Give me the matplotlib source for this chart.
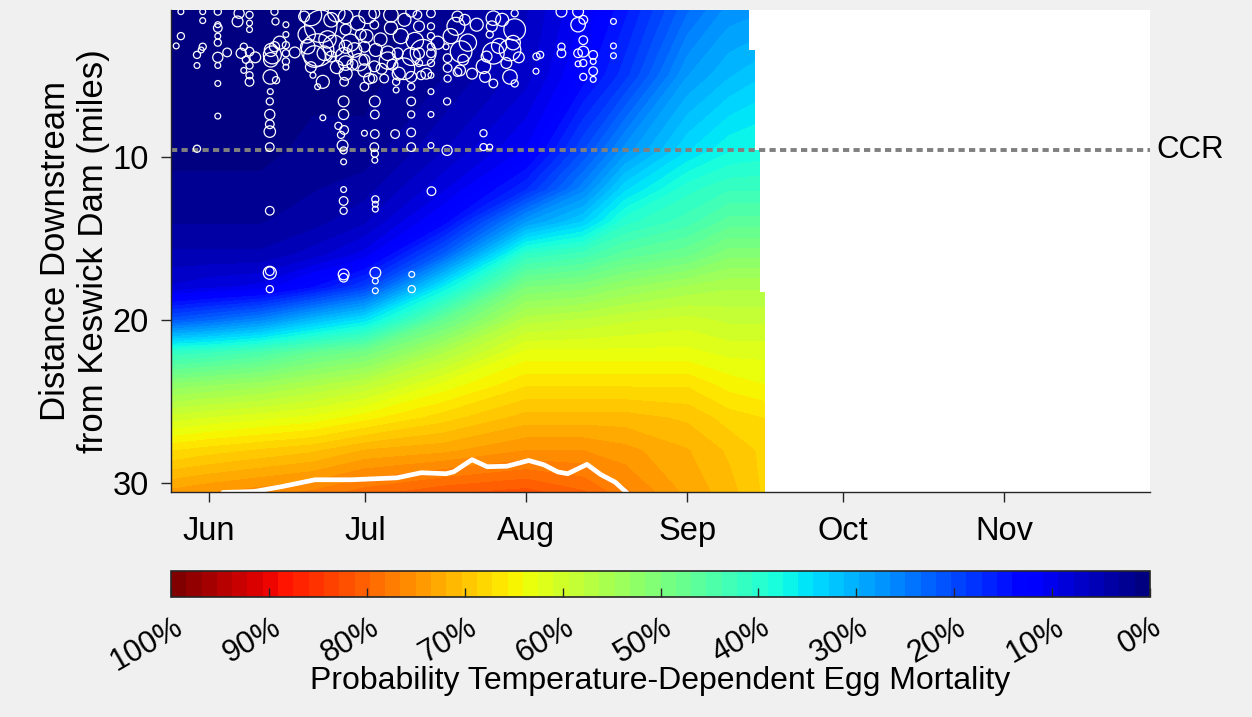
import numpy as np
import matplotlib
matplotlib.use("Agg")
import matplotlib.pyplot as plt
import matplotlib.dates as mdates
from matplotlib.patches import Polygon
from matplotlib.transforms import ScaledTranslation

plt.rcParams['font.family'] = ['Liberation Sans', 'DejaVu Sans']

# ---------------------------------------------------------------
# data (days counted from 1 June, distance in river miles below Keswick)
# ---------------------------------------------------------------
grid_day = [-8, 0, 10, 20, 30, 45, 61, 72, 80, 92, 100, 108]
grid_mile = [0.9, 5, 9.5, 12, 14, 16, 18, 20, 22, 24, 26, 28, 30.6]

# probability of temperature-dependent egg mortality, one row per grid_mile
prob = [
    [0.00, 0.00, 0.00, 0.00, 0.01, 0.02, 0.06, 0.11, 0.15, 0.23, 0.27, 0.28],
    [0.00, 0.00, 0.00, 0.01, 0.01, 0.03, 0.07, 0.13, 0.18, 0.28, 0.31, 0.33],
    [0.01, 0.01, 0.01, 0.02, 0.02, 0.06, 0.11, 0.20, 0.27, 0.34, 0.37, 0.38],
    [0.02, 0.02, 0.02, 0.03, 0.04, 0.09, 0.17, 0.26, 0.34, 0.40, 0.42, 0.42],
    [0.03, 0.03, 0.03, 0.04, 0.06, 0.13, 0.28, 0.33, 0.40, 0.43, 0.46, 0.46],
    [0.05, 0.05, 0.05, 0.07, 0.10, 0.22, 0.41, 0.43, 0.46, 0.48, 0.51, 0.51],
    [0.08, 0.09, 0.10, 0.14, 0.19, 0.36, 0.50, 0.51, 0.53, 0.55, 0.56, 0.56],
    [0.21, 0.23, 0.26, 0.31, 0.35, 0.47, 0.57, 0.58, 0.59, 0.60, 0.59, 0.59],
    [0.41, 0.42, 0.44, 0.47, 0.49, 0.56, 0.63, 0.63, 0.63, 0.63, 0.62, 0.62],
    [0.52, 0.53, 0.54, 0.56, 0.58, 0.63, 0.67, 0.67, 0.67, 0.67, 0.65, 0.64],
    [0.60, 0.61, 0.62, 0.63, 0.65, 0.68, 0.71, 0.71, 0.71, 0.70, 0.68, 0.67],
    [0.67, 0.68, 0.69, 0.70, 0.72, 0.73, 0.75, 0.75, 0.74, 0.72, 0.70, 0.68],
    [0.74, 0.75, 0.76, 0.77, 0.79, 0.81, 0.82, 0.80, 0.77, 0.73, 0.71, 0.68],
]

# last day with data, for each band of river miles (band ends at edge_mile)
edge_mile = [3.45, 9.6, 18.3, 31.0]
edge_day = [103.8, 105.0, 106.0, 106.9]

# white line near the bottom
line_day = [2.7, 8.7, 14.0, 20.4, 27.5, 36.2, 40.8, 45.6, 47.1, 50.6, 53.5,
            57.3, 61.5, 64.4, 67.1, 69.0, 72.7, 75.4, 78.1, 80.4]
line_mile = [30.56, 30.5, 30.2, 29.78, 29.78, 29.66, 29.35, 29.41, 29.29, 28.55,
             28.98, 28.95, 28.6, 28.86, 29.3, 29.41, 28.84, 29.47, 29.92, 30.58]

# redds: day, river mile, circle radius (px)
redd_day = [
    -5.4, -5.4, -6.3,
    -1.2, -1.2, -1.2, -1.5, -2.3, -2.3, -2.3,
    1.7, 1.7, 1.7, 1.7, 1.7, 1.7, 1.7, 1.7, 1.7,
    5.8, 5.5, 7.8, 7.8, 7.8, 6.7, 6.2, 7.8, 7.1, 7.8, 6.7, 7.8, 7.8,
    12.6, 12.8, 14.8, 14.8, 14.8, 14.8, 14.8, 14.8, 12.6, 11.9, 12.2, 11.9,
    11.8, 12.9, 11.8, 11.7, 11.7, 11.7, 11.7, 11.7, 11.7, 11.7, 11.7, 11.7,
    19.6, 21.5, 20.9, 20.3, 22.2, 23.5, 21.9, 20.9, 20.0, 21.9, 19.0, 18.3,
    23.5, 19.6, 24.0,
    26.3, 26.3, 26.3, 26.0, 26.3, 26.3, 26.0, 25.9, 25.9, 24.9, 26.0, 25.4,
    25.7, 25.9, 25.9, 25.9, 25.9, 25.9, 25.9, 25.9,
    28.6, 29.2, 29.9, 29.9, 29.9, 29.9, 29.9, 28.0, 27.6, 30.5,
    31.8, 31.8, 32.1, 31.8, 31.5, 31.9, 31.9, 31.9, 31.8, 31.9, 31.9, 32.0,
    32.0, 32.0, 32.0, 32.0, 32.0,
    35.0, 35.0, 34.4, 36.3, 35.3, 33.7, 36.0, 36.0, 35.8, 34.4,
    38.9, 40.1, 40.4, 38.9, 40.4, 40.4, 38.9, 40.8, 38.9, 38.9, 38.9, 38.9,
    38.9, 39.0, 39.0, 41.2, 37.5,
    42.7, 42.7, 42.7, 42.7, 42.7, 42.7, 42.7, 42.7, 42.7, 42.7, 42.8,
    45.6, 45.9, 45.9, 45.9, 47.8, 47.5, 48.5, 47.8, 45.8, 45.8, 48.3, 49.2,
    48.9,
    54.7, 54.4, 54.0, 58.8, 58.8, 58.5, 57.9, 54.7, 53.4, 52.8, 53.1, 54.7,
    57.9, 58.8, 57.2, 52.8, 52.8, 54.0,
    63.0, 63.7, 62.9,
    67.8, 67.8, 67.8,
    71.0, 71.0, 72.0, 72.0, 71.0, 72.0, 71.0, 72.0, 72.0, 73.9, 73.9, 73.9,
    73.9,
    77.8, 77.8, 77.8,
    18.8, 22.8, 24.6, 27.2, 28.9, 30.3, 33.0, 33.2, 36.9, 37.6, 39.6, 41.8,
    44.0, 46.5, 49.8, 50.6, 51.5, 55.8, 56.4, 59.6, 16.5, 13.6, 8.9, 3.5,
    24.5, 36.5, 30.8,
]
redd_mile = [
    1.1, 2.6, 3.2,
    1.1, 1.65, 3.25, 3.45, 3.75, 4.4, 9.5,
    1.1, 1.9, 2.1, 2.6, 3.0, 3.9, 4.4, 5.5, 7.5,
    1.2, 1.7, 1.3, 1.8, 2.2, 3.25, 3.65, 3.55, 4.05, 4.4, 4.7, 5.0, 5.4,
    1.1, 1.7, 1.9, 2.5, 3.15, 3.65, 4.15, 4.5, 3.25, 3.45, 3.75, 4.05,
    5.1, 5.3, 6.0, 6.6, 7.4, 8.0, 8.45, 9.4, 13.3, 17.1, 17.0, 18.1,
    1.3, 2.0, 3.45, 3.85, 3.65, 3.85, 5.4, 5.7, 5.0, 7.6, 3.25, 1.4,
    1.6, 4.5, 3.2,
    1.4, 2.2, 3.25, 3.85, 4.25, 4.9, 5.4, 6.6, 7.4, 8.1, 8.35, 8.65,
    9.3, 9.6, 10.3, 12.0, 12.7, 13.3, 17.2, 17.4,
    1.8, 2.5, 3.25, 4.05, 4.7, 5.7, 8.55, 3.45, 4.35, 1.3,
    1.2, 1.9, 3.45, 4.45, 5.2, 6.6, 7.4, 8.6, 9.4, 9.8, 10.2, 12.6,
    12.9, 13.2, 17.1, 17.6, 18.2,
    1.3, 2.1, 3.65, 3.65, 4.35, 5.2, 5.4, 5.9, 8.6, 4.1,
    1.1, 1.3, 2.0, 3.85, 3.65, 4.25, 5.1, 5.0, 5.7, 6.6, 7.4, 8.5,
    9.4, 17.2, 18.1, 3.6, 4.6,
    1.2, 2.0, 2.6, 3.25, 3.65, 4.25, 5.0, 6.0, 7.4, 9.3, 12.1,
    3.25, 3.95, 4.55, 5.2, 1.4, 2.0, 3.55, 4.8, 6.6, 9.6, 4.7, 1.6,
    4.05,
    1.5, 2.0, 2.5, 1.2, 2.2, 3.0, 3.45, 3.65, 3.85, 4.45, 5.1, 5.5,
    5.1, 5.5, 4.25, 8.55, 9.4, 9.4,
    3.85, 3.75, 4.75,
    1.1, 3.25, 3.65,
    1.1, 1.9, 1.6, 2.85, 3.65, 3.55, 4.3, 4.25, 5.1, 3.75, 4.15, 4.75,
    5.25,
    1.7, 3.2, 3.8,
    2.5, 2.8, 4.5, 3.0, 4.2, 2.6, 2.8, 4.6, 2.6, 1.6, 2.9, 4.9,
    3.0, 2.6, 3.0, 4.9, 1.9, 3.2, 1.6, 3.9, 3.6, 3.0, 3.9, 3.6,
    1.2, 4.9, 5.2,
]
redd_radius = [
    2.7, 3.3, 2.7,
    2.7, 2.7, 3.3, 2.7, 3.3, 2.7, 3.3,
    3.3, 2.7, 4.0, 2.7, 3.3, 4.7, 2.7, 2.7, 2.7,
    4.7, 5.0, 3.3, 2.7, 2.7, 3.3, 4.7, 4.0, 3.3, 3.3, 2.7, 3.3, 4.0,
    3.3, 3.3, 2.7, 2.7, 3.3, 3.3, 3.3, 2.7, 4.7, 6.0, 8.3, 6.7,
    6.7, 3.3, 2.7, 3.3, 4.7, 4.0, 5.3, 4.0, 4.0, 6.0, 4.0, 3.3,
    10.0, 15.0, 15.0, 10.0, 6.7, 5.0, 6.0, 2.7, 2.7, 2.7, 6.7, 5.0,
    6.7, 5.0, 10.0,
    6.7, 5.0, 6.0, 8.3, 6.7, 6.0, 4.0, 5.0, 4.7, 3.3, 4.0, 3.3,
    5.0, 3.3, 2.7, 2.7, 4.0, 3.3, 5.0, 4.0,
    6.7, 5.0, 5.0, 5.0, 6.0, 4.0, 2.7, 6.7, 5.0, 8.0,
    5.0, 4.0, 6.0, 5.0, 4.0, 5.0, 4.0, 4.0, 4.0, 3.3, 2.7, 3.3,
    2.7, 2.7, 5.0, 2.7, 2.7,
    6.7, 6.0, 6.7, 5.0, 5.0, 4.0, 3.3, 2.7, 4.0, 8.0,
    5.0, 4.0, 5.0, 8.3, 5.0, 3.3, 5.0, 4.0, 3.3, 4.0, 3.3, 4.0,
    4.0, 2.7, 3.3, 12.0, 10.0,
    4.0, 3.3, 3.3, 3.3, 4.0, 3.3, 2.7, 2.7, 2.7, 2.7, 4.0,
    2.7, 4.0, 4.0, 3.3, 5.0, 8.3, 10.0, 4.0, 3.3, 4.7, 5.0, 5.0,
    5.0,
    6.7, 5.0, 3.3, 3.3, 10.0, 6.7, 10.0, 10.0, 5.0, 6.7, 5.0, 4.0,
    6.7, 3.3, 5.0, 3.3, 3.3, 2.7,
    3.3, 3.3, 2.7,
    5.0, 3.3, 4.0,
    5.0, 6.7, 4.0, 4.0, 4.0, 5.0, 2.7, 3.3, 3.3, 4.0, 2.7, 4.0,
    2.7,
    2.7, 2.7, 2.7,
    8.0, 8.0, 6.0, 8.0, 8.0, 6.0, 6.0, 5.0, 7.0, 6.0, 8.0, 5.0,
    6.0, 7.0, 8.0, 5.0, 6.0, 7.0, 6.0, 5.0, 5.0, 6.0, 5.0, 4.0,
    8.0, 6.0, 5.0,
]

ccr_mile = 9.6
cbar_ticks = [0.0, 0.1, 0.2, 0.3, 0.4, 0.5, 0.6, 0.7, 0.8, 0.9, 1.0]

# ---------------------------------------------------------------
start = mdates.date2num(np.datetime64('2021-06-01'))

fig = plt.figure(figsize=(12.52, 7.17), dpi=100, facecolor='#f0f0f0')
ax = fig.add_axes([171/1252, 1 - 492/717, 979/1252, 482/717])
ax.set_facecolor('white')

cmap = matplotlib.colormaps['jet'].resampled(64)
levels = np.linspace(0, 1, 65)
X = start + np.array(grid_day, dtype=float)
Y = np.array(grid_mile)
cs = ax.contourf(X, Y, np.array(prob), levels=levels, cmap=cmap, vmin=0, vmax=1)

# cut the field where the data stops
cx, cy = [grid_day[0]], [0.0]
top = 0.0
for m, d in zip(edge_mile, edge_day):
    cx += [d, d]
    cy += [top, m]
    top = m
cx.append(grid_day[0])
cy.append(top)
clip = Polygon(np.column_stack([start + np.array(cx), cy]), closed=True,
               transform=ax.transData, facecolor='none', edgecolor='none')
cs.set_clip_path(clip)

ax.plot(start + np.array(line_day), line_mile, color='white', lw=3.4,
        solid_capstyle='round', solid_joinstyle='round', zorder=3)

ax.axhline(ccr_mile, color='0.5', lw=2.8, linestyle=(0, (1.6, 1.1)), zorder=3)
ax.text(1.007, ccr_mile, 'CCR', transform=ax.get_yaxis_transform(),
        ha='left', va='center', fontsize=22.5)

sizes = (2 * 1.08 * np.array(redd_radius) * 0.72) ** 2
ax.scatter(start + np.array(redd_day), redd_mile, s=sizes, facecolors='none',
           edgecolors='white', linewidths=0.9, zorder=4)

ax.set_xlim(start - 7.3, start + 181)
ax.set_ylim(30.53, 1.0)
ax.set_yticks([10, 20, 30])
ax.xaxis.set_major_locator(mdates.MonthLocator())
ax.xaxis.set_major_formatter(mdates.DateFormatter('%b'))

for s in ['top', 'right']:
    ax.spines[s].set_visible(False)
for s in ['left', 'bottom']:
    ax.spines[s].set_color('0.15')
    ax.spines[s].set_linewidth(1.0)
    ax.spines[s].set_zorder(5)
ax.tick_params(direction='out', length=7, width=1, color='0.15', labelsize=23.5)
ax.tick_params(axis='x', pad=10)
ax.tick_params(axis='y', pad=9)

ax.set_ylabel('Distance Downstream\nfrom Keswick Dam (miles)', fontsize=25,
              linespacing=1.2)
ax.yaxis.set_label_coords(-0.062, 0.5)

# colorbar
cax = fig.add_axes([171/1252, 1 - 597/717, 979/1252, 26/717])
cb = fig.colorbar(cs, cax=cax, orientation='horizontal', ticks=cbar_ticks)
cax.invert_xaxis()
cb.set_ticklabels([f'{int(round(t * 100))}%' for t in cbar_ticks])
cb.outline.set_linewidth(1.2)
cb.outline.set_edgecolor('0.15')
cax.tick_params(direction='in', length=6.5, width=1, color='0.15',
                labelsize=22, pad=11)
shift = ScaledTranslation(0.02, 0, fig.dpi_scale_trans)
for lab in cax.get_xticklabels():
    lab.set_rotation(30)
    lab.set_ha('right')
    lab.set_va('top')
    lab.set_rotation_mode('anchor')
    lab.set_transform(lab.get_transform() + shift)

cax.set_xlabel('Probability Temperature-Dependent Egg Mortality', fontsize=23)
cax.xaxis.set_label_coords(0.5, -2.65)

fig.savefig('out.png', dpi=100, facecolor=fig.get_facecolor())
